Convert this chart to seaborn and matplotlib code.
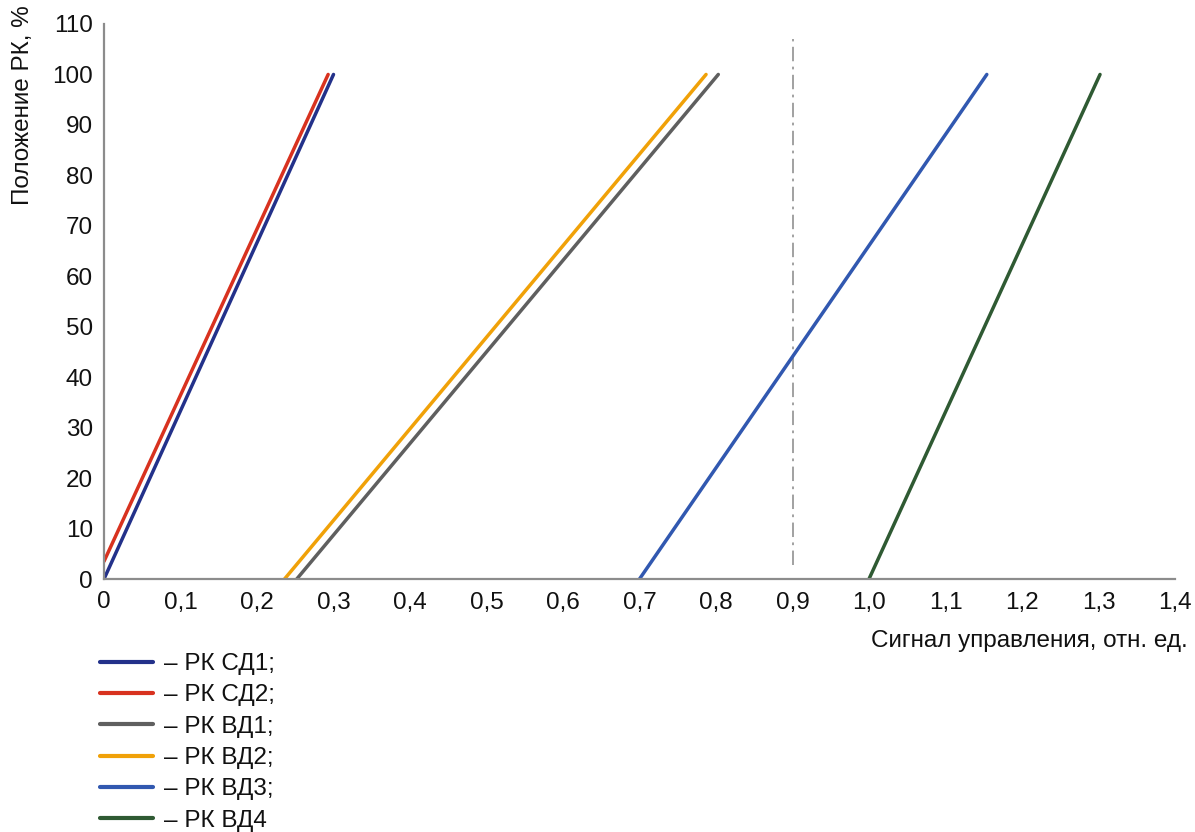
import matplotlib
matplotlib.use("Agg")
import matplotlib.pyplot as plt
import seaborn as sns
import pandas as pd
from matplotlib.ticker import FuncFormatter

series = ["– РК СД1;", "– РК СД2;", "– РК ВД1;", "– РК ВД2;", "– РК ВД3;", "– РК ВД4"]
x_start = [0.0, 0.0, 0.252, 0.236, 0.70, 1.0]
x_end = [0.300, 0.293, 0.803, 0.787, 1.154, 1.302]
y_start = [0.0, 3.5, 0.0, 0.0, 0.0, 0.0]
y_end = [100.0, 100.0, 100.0, 100.0, 100.0, 100.0]
colors = ["#23318a", "#d8321f", "#5f5f5f", "#f0a108", "#3158b0", "#2f5a33"]

ref_x = 0.9
ref_y = [2.8, 107.0]

x_ticks = [0.0, 0.1, 0.2, 0.3, 0.4, 0.5, 0.6, 0.7, 0.8, 0.9, 1.0, 1.1, 1.2, 1.3, 1.4]
y_ticks = [0, 10, 20, 30, 40, 50, 60, 70, 80, 90, 100, 110]

rows = []
for name, xs, xe, ys, ye in zip(series, x_start, x_end, y_start, y_end):
    rows.append({"series": name, "x": xs, "y": ys})
    rows.append({"series": name, "x": xe, "y": ye})
df = pd.DataFrame(rows)

sns.set_theme(style="white")
plt.rcParams["font.family"] = ["Liberation Sans", "DejaVu Sans"]

fig = plt.figure(figsize=(11.95, 8.32), dpi=100)
ax = fig.add_axes([104 / 1195, 1 - 579 / 832, (1175 - 104) / 1195, (579 - 24) / 832])

ax.plot([ref_x, ref_x], ref_y, color="#9a9a9a", lw=1.3, ls=(0, (8, 3, 1.5, 3)), zorder=1)

sns.lineplot(data=df, x="x", y="y", hue="series", palette=dict(zip(series, colors)),
             hue_order=series, linewidth=2.5, sort=False, estimator=None,
             units="series", ax=ax, legend=True)

ax.set_xlim(0, 1.4)
ax.set_ylim(0, 110)
ax.set_xticks(x_ticks)
ax.set_yticks(y_ticks)

def fmt_x(v, pos):
    if abs(v) < 1e-9:
        return "0"
    return f"{v:.1f}".replace(".", ",")

ax.xaxis.set_major_formatter(FuncFormatter(fmt_x))
ax.tick_params(axis="both", length=0, labelsize=17.5, colors="#111111")
ax.tick_params(axis="x", pad=9)
ax.tick_params(axis="y", pad=8)
for s in ["top", "right"]:
    ax.spines[s].set_visible(False)
for s in ["left", "bottom"]:
    ax.spines[s].set_color("#8c8c8c")
    ax.spines[s].set_linewidth(1.6)
ax.set_xlabel("")
ax.set_ylabel("")

fig.text(1188 / 1195, 1 - 641 / 832, "Сигнал управления, отн. ед.", ha="right", va="center",
         fontsize=17.5, color="#111111")
fig.text(23 / 1195, 1 - 5 / 832, "Положение РК, %", ha="center", va="top", rotation=90,
         fontsize=17.5, color="#111111")

handles, labels = ax.get_legend_handles_labels()
ax.get_legend().remove()
leg = fig.legend(handles, labels, loc="upper left", bbox_to_anchor=(100 / 1195, 1 - 653 / 832),
                 frameon=False, fontsize=17.5, handlelength=2.2, handletextpad=0.45,
                 labelspacing=0.385, borderaxespad=0, borderpad=0)
for t in leg.get_texts():
    t.set_color("#111111")
for h in leg.legend_handles:
    h.set_linewidth(3)

fig.savefig("out.png", dpi=100)
